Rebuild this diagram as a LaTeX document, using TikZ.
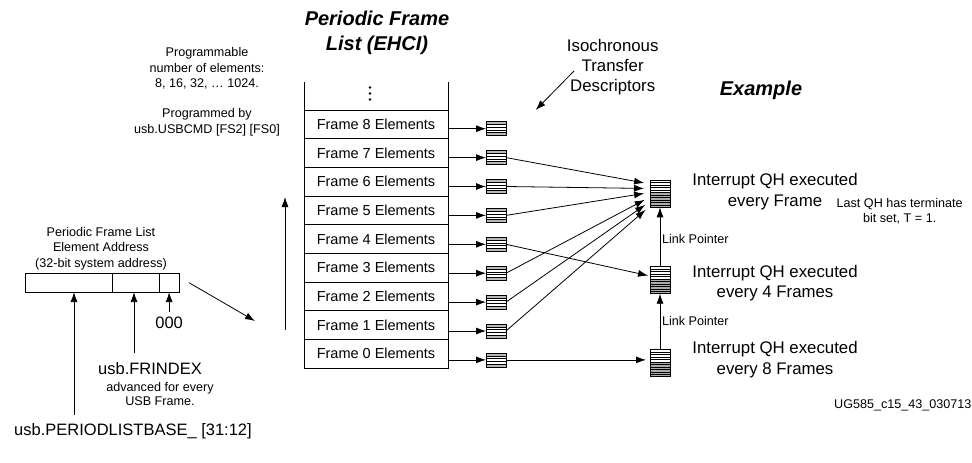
\documentclass[tikz,border=0pt]{standalone}
\usepackage{fontspec}
\setmainfont{Liberation Sans}
\usetikzlibrary{arrows.meta,calc}
\begin{document}
\begin{tikzpicture}[x=1pt,y=-1pt,
  every node/.style={inner sep=0pt, outer sep=0pt},
  lbl/.style={font=\fontsize{12.6}{15.5}\selectfont, align=center},
  mid/.style={font=\fontsize{16.5}{20}\selectfont, align=center},
  big/.style={font=\fontsize{16.8}{20.3}\selectfont, align=center},
  ttl/.style={font=\fontsize{20}{25}\selectfont\bfseries\itshape, align=center},
  rowbox/.style={draw, line width=0.9pt, minimum width=144pt, minimum height=28.67pt,
     font=\fontsize{14.5}{16}\selectfont},
  conn/.style={line width=0.8pt, -{Latex[length=10pt,width=7pt]}},
  tdbox/.style={draw, line width=0.8pt, minimum width=20pt, minimum height=14pt, fill=white,
    path picture={
      \fill[gray!55] (path picture bounding box.north west) rectangle ([yshift=-3pt]path picture bounding box.north east);
      \fill[gray!55] (path picture bounding box.south west) rectangle ([yshift=3pt]path picture bounding box.south east);
      \foreach \d in {3,5.6,8.4,11} \draw[line width=0.6pt] ([yshift=-\d pt]path picture bounding box.north west) -- ([yshift=-\d pt]path picture bounding box.north east);
    }},
  qhbox/.style={draw, line width=0.8pt, minimum width=20pt, minimum height=27.3pt, fill=white,
    path picture={
      \fill[gray!65] ([yshift=-12.5pt]path picture bounding box.north west) rectangle (path picture bounding box.south east);
      \foreach \d in {2.5,5,...,25} \draw[line width=0.6pt] ([yshift=-\d pt]path picture bounding box.north west) -- ([yshift=-\d pt]path picture bounding box.north east);
    }},
]
\useasboundingbox (0,0) rectangle (972,463);

% titles and notes
\node[ttl] (title) at (377,32.5) {Periodic Frame\\List (EHCI)};
\node[ttl] (example) at (761,90) {Example};
\node[lbl] (prog) at (207,68.3) {Programmable\\number of elements:\\8, 16, 32, \dots\ 1024.};
\node[lbl] (progby) at (207,122) {Programmed by\\usb.USBCMD [FS2] [FS0]};
\node[big] (iso) at (612.7,67) {Isochronous\\Transfer\\Descriptors};

% frame list
\foreach \i in {0,...,8}
  \node[rowbox] (r\i) at (376,{124.33+(8-\i)*28.67}) {Frame \i\ Elements};
\draw[line width=0.9pt] (r8.north west) -- ++(0,-28);
\draw[line width=0.9pt] (r8.north east) -- ++(0,-28);
\foreach \yy in {87.5,93.5,99.5} \fill (370,\yy) circle (1.4);

% transfer descriptors
\foreach \i in {0,...,8} {
  \node[tdbox] (t\i) at (496,{128.7+(8-\i)*28.9}) {};
  \draw[conn] (r\i.east |- t\i.west) -- (t\i.west);
}
\coordinate (isoS) at (574,71);
\coordinate (isoE) at (535.7,110);
\draw[conn] (isoS) -- (isoE);

% queue heads
\node[qhbox] (q1) at (660,193.7) {};
\node[qhbox] (q2) at (660,280) {};
\node[qhbox] (q3) at (660,363) {};
\node[big] (q1l) at (775,191.7) {Interrupt QH executed\\every Frame};
\node[big] (q2l) at (775,283) {Interrupt QH executed\\every 4 Frames};
\node[big] (q3l) at (775,359.7) {Interrupt QH executed\\every 8 Frames};
\node[lbl] (term) at (899.7,211.2) {Last QH has terminate\\bit set, T = 1.};
\draw[conn] (q2.north) -- (q1.south);
\draw[conn] (q3.north) -- (q2.south);
\node[lbl, anchor=west] (lp1) at (662,239.3) {Link Pointer};
\node[lbl, anchor=west] (lp2) at (662,321) {Link Pointer};

% fan-in to QH 1
\draw[conn, shorten >=6pt] (t7.east) -- ([yshift=9.7pt]q1.west);
\draw[conn, shorten >=6pt] (t6.east) -- ([yshift=5.2pt]q1.west);
\draw[conn, shorten >=6pt] (t5.east) -- ([yshift=1.2pt]q1.west);
\draw[conn, shorten >=6pt] (t3.east) -- ([yshift=-3.3pt]q1.west);
\draw[conn, shorten >=6pt] (t2.east) -- ([yshift=-7.8pt]q1.west);
\draw[conn, shorten >=6pt] (t1.east) -- ([yshift=-12.3pt]q1.west);
\draw[conn, shorten >=2pt] (t4.east) -- ([yshift=4pt]q2.west);
\draw[conn, shorten >=4pt] (t0.east) -- (q3.west |- t0.east);

% element address
\node[lbl] (addrl) at (101,248.5) {Periodic Frame List\\Element Address\\(32-bit system address)};
\node[draw, line width=0.8pt, minimum width=87.3pt, minimum height=19pt] (a1) at (68.65,282.6) {};
\node[draw, line width=0.8pt, minimum width=47pt, minimum height=19pt] (a2) at (135.8,282.6) {};
\node[draw, line width=0.8pt, minimum width=19.7pt, minimum height=19pt] (a3) at (169.15,282.6) {};
\node[mid] (zero) at (169.15,323) {000};
\node[mid] (frindex) at (150,369) {usb.FRINDEX};
\node[lbl, font=\fontsize{12.6}{14}\selectfont] (adv) at (160,393.5) {advanced for every\\USB Frame.};
\node[mid] (plb) at (133,431.7) {usb.PERIODLISTBASE\_ [31:12]};
\coordinate (plbS) at (74,415);
\coordinate (friS) at (134,352.7);
\draw[conn] (plbS) -- (plbS |- a1.south);
\draw[conn] (friS) -- (friS |- a2.south);
\draw[conn, shorten <=5pt] (zero.north) -- (a3.south);
\coordinate (aoS) at (189,282.7);
\coordinate (aoE) at (255,321);
\draw[conn] (aoS) -- (aoE);
\coordinate (upS) at (285,330);
\coordinate (upE) at (285,197);
\draw[conn] (upS) -- (upE);

\node[lbl, anchor=east] (foot) at (971.5,405) {UG585\_c15\_43\_030713};
\end{tikzpicture}
\end{document}
